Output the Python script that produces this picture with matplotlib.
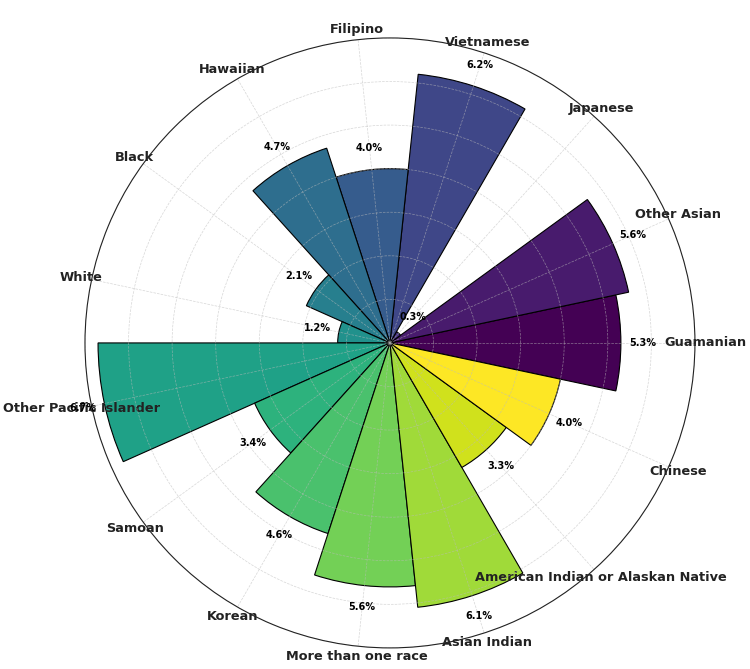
import numpy as np
import matplotlib
matplotlib.use("Agg")
import matplotlib.pyplot as plt

categories = ["Guamanian", "Other Asian", "Japanese", "Vietnamese", "Filipino",
              "Hawaiian", "Black", "White", "Other Pacific Islander", "Samoan",
              "Korean", "More than one race", "Asian Indian",
              "American Indian or Alaskan Native", "Chinese"]
values = [5.3, 5.6, 0.3, 6.2, 4.0, 4.7, 2.1, 1.2, 6.7, 3.4, 4.6, 5.6, 6.1, 3.3, 4.0]
value_labels = [f"{v:.1f}%" for v in values]

n = len(categories)
angles = np.arange(n) * 2 * np.pi / n
width = 2 * np.pi / n
colors = plt.cm.viridis(np.linspace(0, 1, n))

fig = plt.figure(figsize=(7.5, 6.69), dpi=100)
ax = fig.add_axes([0.1133, 0.0314, 0.8133, 0.912], projection="polar")

ax.bar(angles, values, width=width, color=colors, edgecolor="black",
       linewidth=0.8, align="center")

ax.set_ylim(0, 7.0)
ax.set_yticks(np.arange(1, 8))
ax.set_yticklabels([])
ax.set_xticks(angles)
ax.set_xticklabels(categories, fontsize=9.3, fontweight="bold", color="#222222")
ax.tick_params(axis="x", pad=-3)
ax.grid(True, color="#bbbbbb", alpha=0.6, linestyle="--", linewidth=0.5)
ax.spines["polar"].set_linewidth(0.8)
ax.spines["polar"].set_color("#222222")

for a, v, lab in zip(angles, values, value_labels):
    ax.text(a, v + 0.5, lab, ha="center", va="center", fontsize=7,
            fontweight="bold", color="black")

fig.savefig("out.png", dpi=100)
